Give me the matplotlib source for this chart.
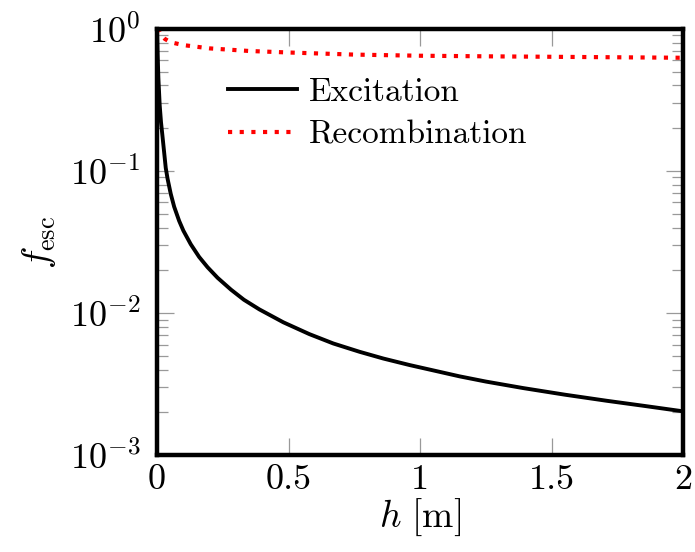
import matplotlib
matplotlib.use("Agg")
import matplotlib.pyplot as plt
from matplotlib.ticker import FixedLocator, FixedFormatter, LogLocator, NullFormatter

# Data
h_exc = [0, 0.002, 0.005, 0.01, 0.015, 0.02, 0.033, 0.04, 0.052, 0.065, 0.084,
         0.1, 0.128, 0.16, 0.192, 0.23, 0.281, 0.33, 0.389, 0.48, 0.579, 0.67,
         0.77, 0.86, 0.96, 1.15, 1.25, 1.392, 1.55, 1.709, 1.85, 2.0]
f_exc = [1.0, 0.67, 0.45, 0.29, 0.22, 0.18, 0.105, 0.088, 0.069, 0.056, 0.0445,
         0.038, 0.0305, 0.0248, 0.021, 0.0177, 0.0146, 0.0124, 0.0106, 0.0086,
         0.0071, 0.0061, 0.00533, 0.00478, 0.0043, 0.00358, 0.00329, 0.00296,
         0.00266, 0.00241, 0.00222, 0.00203]

h_rec = [0, 0.008, 0.015, 0.03, 0.045, 0.06, 0.1, 0.2, 0.35, 0.5, 0.75, 1.0,
         1.25, 1.5, 1.75, 2.0]
f_rec = [1.0, 0.97, 0.91, 0.85, 0.82, 0.80, 0.77, 0.73, 0.70, 0.683, 0.66,
         0.648, 0.642, 0.637, 0.632, 0.627]

xticks = [0, 0.5, 1, 1.5, 2]
xticklabels = ["0", "0.5", "1", "1.5", "2"]
legend_labels = ["Excitation", "Recombination"]

plt.rcParams["mathtext.fontset"] = "cm"
plt.rcParams["font.family"] = "serif"
plt.rcParams["font.serif"] = ["cmr10"]
plt.rcParams["axes.unicode_minus"] = False
plt.rcParams["axes.formatter.use_mathtext"] = True

fig = plt.figure(figsize=(6.95, 5.52), dpi=100)
ax = fig.add_axes([0.226, 0.1757, 0.983 - 0.226, 0.9475 - 0.1757])

ax.plot(h_exc, f_exc, color="black", lw=2.8, solid_joinstyle="round",
        label=legend_labels[0], zorder=3)
ax.plot(h_rec, f_rec, color="red", lw=3.0, linestyle=(0, (1, 1.8)),
        dash_capstyle="butt", label=legend_labels[1], zorder=3)

ax.set_yscale("log")
ax.set_xlim(0, 2)
ax.set_ylim(1e-3, 1e0)

ax.xaxis.set_major_locator(FixedLocator(xticks))
ax.xaxis.set_major_formatter(FixedFormatter(xticklabels))
ax.yaxis.set_major_locator(LogLocator(base=10, numticks=10))
ax.yaxis.set_minor_locator(LogLocator(base=10, subs=range(2, 10), numticks=20))
ax.yaxis.set_minor_formatter(NullFormatter())

for sp in ax.spines.values():
    sp.set_linewidth(3.2)
    sp.set_color("black")
    sp.set_zorder(4)

ax.tick_params(which="major", direction="in", length=12, width=0.9,
               color="#999999", top=True, right=True, labelsize=26)
ax.tick_params(which="minor", direction="in", length=8, width=0.9,
               color="#999999", top=True, right=True)
ax.tick_params(axis="x", which="major", pad=7)
ax.tick_params(axis="y", which="major", pad=12)

ax.set_xlabel(r"$h\ [\mathrm{m}]$", fontsize=27, labelpad=0)
ax.set_ylabel(r"$f_{\mathrm{esc}}$", fontsize=27, labelpad=8)

leg = ax.legend(loc="upper left", bbox_to_anchor=(0.11, 0.918), frameon=False,
                fontsize=24, handlelength=2.06, handletextpad=0.36,
                labelspacing=0.42, borderaxespad=0)

fig.savefig("out.png", dpi=100)
